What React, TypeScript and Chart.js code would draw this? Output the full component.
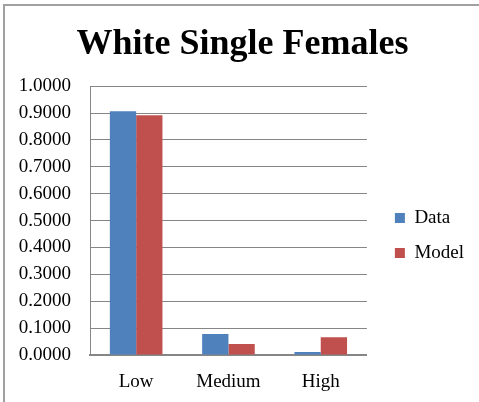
import React, { useEffect, useRef } from "react";
import { Chart, registerables } from "chart.js";

Chart.register(...registerables);

const TITLE = "White Single Females";
const categories = ["Low", "Medium", "High"];
const dataValues = [0.907, 0.078, 0.011];
const modelValues = [0.892, 0.041, 0.066];
const seriesNames = ["Data", "Model"];
const yTicks = [0, 0.1, 0.2, 0.3, 0.4, 0.5, 0.6, 0.7, 0.8, 0.9, 1.0];

const FONT = "'Liberation Serif', 'Times New Roman', serif";
const PAD_L = 11;
const PAD_R = 5;

export default function App() {
  const ref = useRef<HTMLCanvasElement | null>(null);

  useEffect(() => {
    if (!ref.current) return;
    const chart = new Chart(ref.current, {
      type: "bar",
      data: {
        labels: categories,
        datasets: [
          {
            label: seriesNames[0],
            data: dataValues,
            backgroundColor: "#4F81BD",
            borderWidth: 0,
            categoryPercentage: 0.57,
            barPercentage: 1,
          },
          {
            label: seriesNames[1],
            data: modelValues,
            backgroundColor: "#C0504D",
            borderWidth: 0,
            categoryPercentage: 0.57,
            barPercentage: 1,
          },
        ],
      },
      options: {
        responsive: false,
        animation: false,
        layout: { padding: { left: PAD_L, right: PAD_R, top: 5, bottom: 7 } },
        plugins: {
          title: {
            display: true,
            text: TITLE,
            color: "#000000",
            font: { family: FONT, size: 36, weight: "bold", lineHeight: 1.2 },
            padding: { top: 18, bottom: 20 },
          },
          legend: {
            display: true,
            position: "right",
            fullSize: false,
            title: {
              display: true,
              text: " ",
              font: { family: FONT, size: 10, lineHeight: 1 },
              padding: { top: 4, bottom: 4 },
            },
            labels: {
              color: "#000000",
              font: { family: FONT, size: 19, lineHeight: "7px" },
              boxWidth: 10,
              boxHeight: 10,
              padding: 28,
              generateLabels: (c: any) =>
                Chart.defaults.plugins.legend.labels
                  .generateLabels(c)
                  .map((l: any) => ({ ...l, text: [l.text] })),
            },
          },
          tooltip: { enabled: false },
        },
        scales: {
          x: {
            grid: { display: false },
            border: { display: true, color: "#868686", width: 2 },
            ticks: {
              color: "#000000",
              font: { family: FONT, size: 19 },
              padding: 8,
            },
            afterFit: (s: any) => {
              s.height = 40;
            },
          },
          y: {
            min: 0,
            max: 1,
            afterBuildTicks: (s: any) => {
              s.ticks = yTicks.map((v) => ({ value: v }));
            },
            grid: { color: "#868686", lineWidth: 1, drawTicks: false },
            border: { display: true, color: "#868686", width: 1 },
            ticks: {
              color: "#000000",
              font: { family: FONT, size: 19 },
              padding: 19,
              callback: (v: any) => Number(v).toFixed(4),
            },
            afterFit: (s: any) => {
              s.width = 90 - PAD_L;
            },
          },
        },
      },
    } as any);
    return () => chart.destroy();
  }, []);

  return (
    <div
      style={{
        position: "fixed",
        left: 0,
        top: 0,
        width: 479,
        height: 402,
        background: "#ffffff",
        overflow: "hidden",
      }}
    >
      <div
        style={{
          position: "absolute",
          left: 3,
          top: 4,
          width: 500,
          height: 420,
          borderLeft: "2px solid #a0a0a0",
          borderTop: "2px solid #a0a0a0",
        }}
      />
      <canvas
        ref={ref}
        width={479}
        height={402}
        style={{ position: "absolute", left: 0, top: 0, display: "block" }}
      />
    </div>
  );
}
